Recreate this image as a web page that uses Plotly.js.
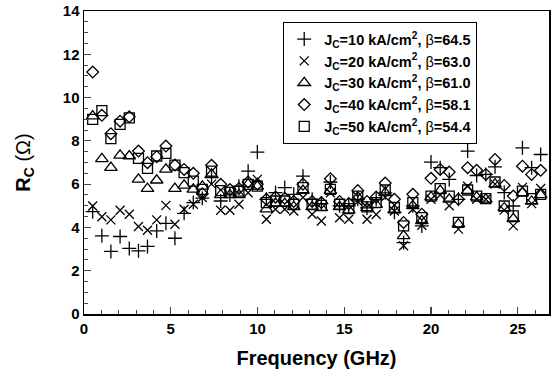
<!DOCTYPE html>
<html>
<head>
<meta charset="utf-8">
<script src="https://cdn.plot.ly/plotly-3.0.1.min.js"></script>
<style>html,body{margin:0;padding:0;background:#fff;}#chart{width:552px;height:374px;}</style>
</head>
<body>
<div id="chart"></div>
<script>
// Frequency (GHz)
const freq = [0.50,1.03,1.55,2.08,2.61,3.14,3.66,4.19,4.72,5.24,5.77,6.30,6.82,7.35,7.88,8.41,8.93,9.46,9.99,10.51,11.04,11.57,12.09,12.62,13.15,13.68,14.20,14.73,15.26,15.78,16.31,16.84,17.36,17.89,18.42,18.95,19.47,20.00,20.53,21.05,21.58,22.11,22.63,23.16,23.69,24.22,24.74,25.27,25.80,26.32];

const rc10 = [4.73,3.61,2.89,3.58,3.03,2.92,3.12,3.84,4.19,3.50,4.65,5.15,5.35,6.30,5.22,5.50,5.90,6.60,7.48,5.30,5.61,5.84,5.53,6.37,5.30,5.10,6.10,5.00,5.00,5.30,4.90,5.30,5.60,4.70,3.30,5.00,4.07,7.02,6.76,6.22,5.30,7.53,6.40,6.45,6.80,5.61,4.99,7.68,6.76,7.37];
const rc20 = [4.99,4.49,4.35,4.79,4.61,4.04,3.87,4.35,5.02,4.15,4.84,5.07,5.38,6.00,4.79,4.79,5.07,5.60,6.22,4.38,4.84,4.84,4.76,5.38,4.61,4.30,5.60,4.45,4.38,5.20,4.38,4.60,5.40,4.76,3.15,4.84,4.10,5.30,5.50,5.00,3.92,5.90,5.30,5.30,6.00,4.80,4.07,5.85,5.10,5.80];
const rc30 = [9.14,7.17,6.76,7.33,7.30,6.22,5.79,6.18,6.68,5.79,5.94,5.76,5.90,6.45,5.50,5.50,5.50,6.00,5.90,4.85,5.10,5.10,4.95,5.70,4.95,4.90,5.70,4.95,4.80,5.40,4.90,5.05,5.60,4.80,3.61,5.00,4.30,5.40,5.70,5.30,4.15,5.70,5.40,5.30,6.00,4.90,4.40,5.60,5.20,5.50];
const rc40 = [11.18,9.18,8.33,8.91,9.11,7.53,6.99,7.27,7.76,6.88,6.68,6.50,5.56,6.87,5.99,5.75,5.80,6.10,6.00,5.30,5.40,5.35,5.20,6.00,5.20,5.15,6.25,5.20,5.10,5.70,5.20,5.40,6.05,5.30,4.23,5.53,4.61,6.27,6.68,6.56,5.30,6.76,6.64,6.45,7.14,5.94,5.45,6.83,6.45,6.64];
const rc50 = [8.99,9.40,8.10,8.76,9.06,7.19,6.73,7.30,7.42,6.88,6.53,6.14,5.76,6.60,5.70,5.62,5.68,5.99,5.91,5.15,5.22,5.22,5.07,5.84,5.07,5.02,5.76,5.07,4.87,5.45,4.95,5.15,5.73,4.92,4.07,5.15,4.45,5.45,5.79,5.45,4.23,5.73,5.45,5.33,6.10,4.99,4.53,5.68,5.33,5.53];

const seriesNames = [
  'J<sub>C</sub>=10 kA/cm<sup>2</sup>, <span style="font-weight:normal">β</span>=64.5',
  'J<sub>C</sub>=20 kA/cm<sup>2</sup>, <span style="font-weight:normal">β</span>=63.0',
  'J<sub>C</sub>=30 kA/cm<sup>2</sup>, <span style="font-weight:normal">β</span>=61.0',
  'J<sub>C</sub>=40 kA/cm<sup>2</sup>, <span style="font-weight:normal">β</span>=58.1',
  'J<sub>C</sub>=50 kA/cm<sup>2</sup>, <span style="font-weight:normal">β</span>=54.4'
];
const seriesValues = [rc10, rc20, rc30, rc40, rc50];
const symbols = ['cross-thin-open','x-thin-open','triangle-up-open','diamond-open','square-open'];
const sizes = [10, 9, 11, 9, 10];

const traces = seriesValues.map((v, k) => ({
  type: 'scatter', mode: 'markers', x: freq, y: v, name: seriesNames[k],
  marker: {symbol: symbols[k], size: sizes[k], color: '#000', line: {color: '#000', width: 1.3}}
}));

const fontFam = '"Liberation Sans", Arial, Helvetica, sans-serif';
const layout = {
  width: 552, height: 374,
  margin: {l: 84, r: 3, t: 11, b: 60},
  paper_bgcolor: '#fff', plot_bgcolor: '#fff',
  font: {family: fontFam, color: '#000', size: 15, weight: 'bold'},
  showlegend: true,
  legend: {
    x: 0.428, y: 0.964, xanchor: 'left', yanchor: 'top',
    bordercolor: '#000', borderwidth: 1.2, bgcolor: '#fff',
    font: {family: fontFam, size: 14.5, weight: 'bold', color: '#000'},
    itemwidth: 30, tracegroupgap: 0
  },
  xaxis: {
    range: [0, 26.8], dtick: 5, tick0: 0, ticks: 'inside', ticklen: 7, tickwidth: 1.2,
    minor: {dtick: 1, ticks: 'inside', ticklen: 4, tickwidth: 1, showgrid: false},
    showgrid: false, zeroline: false, showline: true, mirror: true, linecolor: '#000', linewidth: 1.5,
    tickfont: {family: fontFam, size: 15, weight: 'bold'},
    title: {text: 'Frequency (GHz)', font: {family: fontFam, size: 20, weight: 'bold'}, standoff: 15}
  },
  yaxis: {
    range: [0, 14], dtick: 2, tick0: 0, ticks: 'inside', ticklen: 7, tickwidth: 1.2,
    minor: {dtick: 0.5, ticks: 'inside', ticklen: 4, tickwidth: 1, showgrid: false},
    showgrid: false, zeroline: false, showline: true, mirror: true, linecolor: '#000', linewidth: 1.5,
    tickfont: {family: fontFam, size: 15, weight: 'bold'},
    title: {text: 'R<sub>C</sub> <span style="font-weight:normal">(Ω)</span>', font: {family: fontFam, size: 20, weight: 'bold'}, standoff: 27}
  }
};

Plotly.newPlot('chart', traces, layout, {staticPlot: true, displayModeBar: false});
</script>
</body>
</html>
